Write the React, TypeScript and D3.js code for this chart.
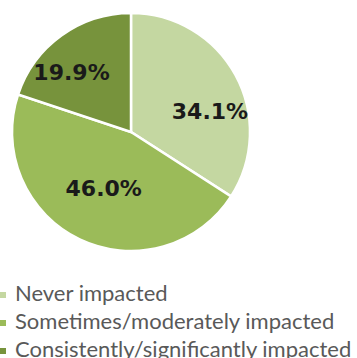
import React from "react";
import * as d3 from "d3";

const categories = ["Never impacted", "Sometimes/moderately impacted", "Consistently/significantly impacted"];
const values = [34.1, 46.0, 19.9];
const colors = ["#c4d7a1", "#9bbb59", "#77933c"];
const labelText = ["34.1%", "46.0%", "19.9%"];
// label placement (angle from 12 o'clock in degrees, radius as fraction of pie radius)
const labelAngles = [75, 206, 315];
const labelRadii = [0.687, 0.524, 0.707];

export default function App() {
  const W = 357, H = 358;
  const cx = 131, cy = 132, r = 119;
  const pie = d3.pie<number>().sort(null).value((d) => d);
  const arcs = pie(values);
  const arc = d3.arc<d3.PieArcDatum<number>>().innerRadius(0).outerRadius(r);
  const legendY = d3.scaleBand<string>().domain(categories).range([286.5, 370.5]);
  return (
    <svg width={W} height={H} style={{ position: "absolute", left: 0, top: 0, background: "#fff" }}>
      <g transform={`translate(${cx},${cy})`}>
        {arcs.map((a, i) => (
          <path key={i} d={arc(a) || ""} fill={colors[i]} stroke="#fff" strokeWidth={2.5} />
        ))}
        {arcs.map((a, i) => {
          const ang = (labelAngles[i] * Math.PI) / 180;
          const rr = labelRadii[i] * r;
          const x = Math.sin(ang) * rr;
          const y = -Math.cos(ang) * rr;
          return (
            <text key={i} x={x} y={y} textAnchor="middle" dy="0.36em"
              fontFamily="DejaVu Sans" fontWeight="bold" fontSize={22} fill="#1a1a1a">
              {labelText[i]}
            </text>
          );
        })}
      </g>
      {categories.map((c, i) => {
        const y = (legendY(c) || 0) + legendY.bandwidth() / 2; // baseline
        return (
          <g key={c}>
            <rect x={0} y={y - 8.5} width={6} height={6} fill={colors[i]} />
            <text x={15} y={y} fontFamily="Lato" fontSize={22} fill="#595959">{c}</text>
          </g>
        );
      })}
    </svg>
  );
}
